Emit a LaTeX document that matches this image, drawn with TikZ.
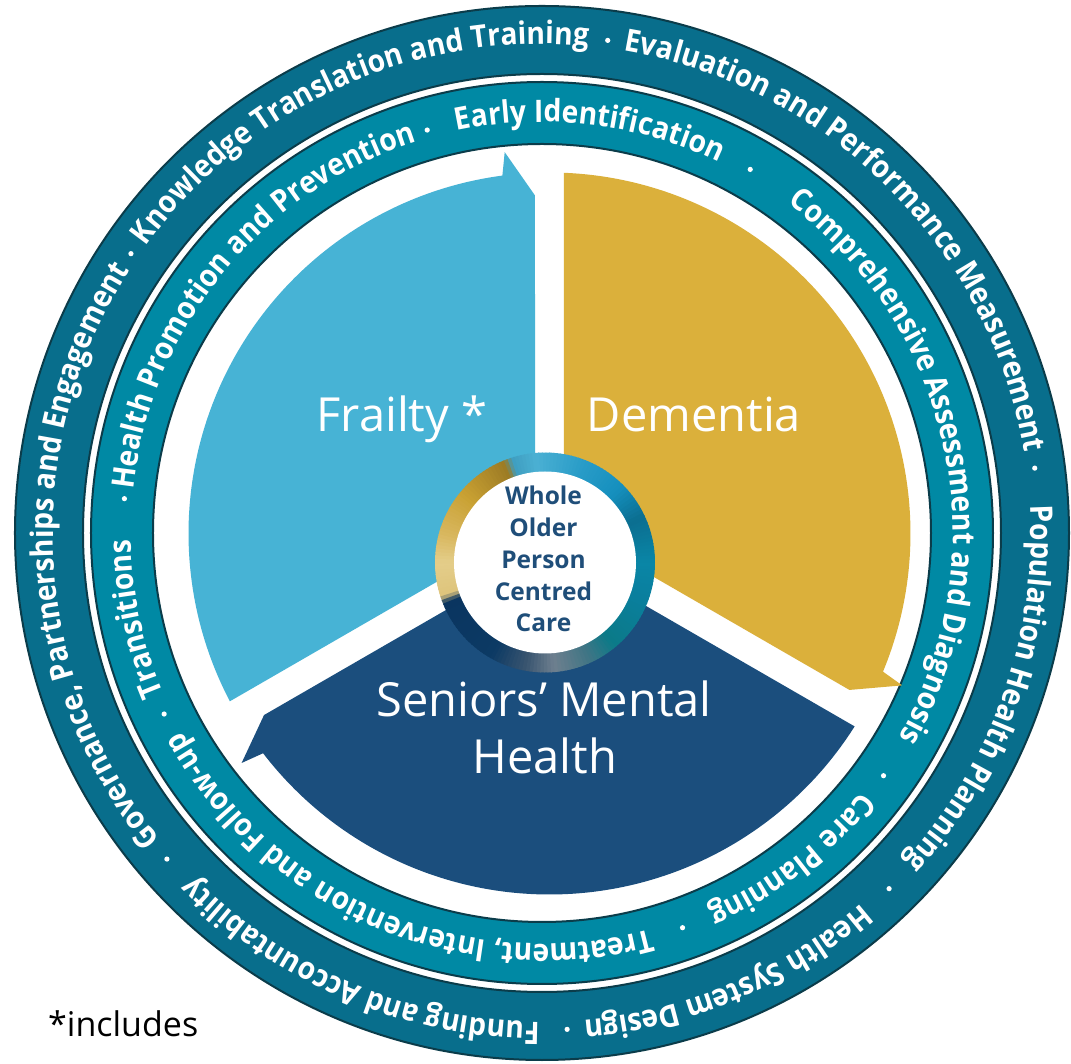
\documentclass[tikz,border=0pt]{standalone}
\usepackage{fontspec}
\setmainfont{Open Sans}
\newfontfamily\ringfont[FakeStretch=0.91]{Open Sans}
\newfontfamily\labelfont{Open Sans}
\usetikzlibrary{decorations.text}
\definecolor{ringouter}{HTML}{086E8C}
\definecolor{ringinner}{HTML}{0089A4}
\definecolor{ringline}{HTML}{0B3C4A}
\definecolor{frailtycol}{HTML}{47B3D5}
\definecolor{dementiacol}{HTML}{DBB03B}
\definecolor{smhcol}{HTML}{1B4E7D}
\definecolor{centreblue}{HTML}{1F4E79}
% centre ring key colours
\definecolor{kA}{HTML}{E4CE8A}
\definecolor{kB}{HTML}{DEC47C}
\definecolor{kC}{HTML}{0A3560}
\definecolor{kD}{HTML}{0C3A64}
\definecolor{kE}{HTML}{3A5570}
\definecolor{kF}{HTML}{6E7F8F}
\definecolor{kG}{HTML}{3F7585}
\definecolor{kH}{HTML}{0B7A88}
\definecolor{kI}{HTML}{0A7F9E}
\definecolor{kJ}{HTML}{0A86A6}
\definecolor{kK}{HTML}{0B6E90}
\definecolor{kL}{HTML}{1590BE}
\definecolor{kM}{HTML}{2A9DC8}
\definecolor{kN}{HTML}{4BB0D3}
\definecolor{kO}{HTML}{3E9EC0}
\definecolor{kP}{HTML}{9C7B24}
\definecolor{kQ}{HTML}{C9A133}
\definecolor{kR}{HTML}{D9B860}
\tikzset{
  ringtext/.style={decorate, decoration={text along path, text color=white,
      text align=center, text={|\ringfont\bfseries\fontsize{31}{31}\selectfont|#1}}},
  labeltext/.style={font=\labelfont\fontsize{47}{47}\selectfont, text=white, inner sep=0pt, anchor=base},
  centretext/.style={font=\bfseries\fontsize{24.5}{24.5}\selectfont, text=centreblue, inner sep=0pt, anchor=base},
  ringdot/.style={fill=white},
}
\begin{document}
\begin{tikzpicture}[x=1pt,y=1pt]
\useasboundingbox[fill=white] (-542,-531) rectangle (529,533);
% rings
\coordinate (rc) at (0,0);
\fill[ringouter, draw=ringline, line width=2, even odd rule] (rc) circle (527) (rc) circle (459);
\fill[ringinner, draw=ringline, line width=2, even odd rule] (rc) circle (451) (rc) circle (389);
% segments
\foreach \g/\col in {90/frailtycol, 330/dementiacol, 210/smhcol}{
  \begin{scope}[shift={(7.5,-0.5)}, rotate=\g]
    \fill[\col] (60:16.74) -- (338,14.5) -- (6.7:384) -- (7.5:361)
      arc[start angle=7.5, end angle=117.7, radius=361] -- cycle;
  \end{scope}
}
% centre circle
\coordinate (cc) at (3,-29.5);
\foreach \ua/\ub/\uc/\ud in {-180/-162/kA/kB, -162/-158/kB/kC, -158/-120/kC/kD, -120/-100/kD/kE,
   -100/-85/kE/kF, -85/-65/kF/kG, -65/-50/kG/kH, -50/-20/kH/kI, -20/0/kI/kJ, 0/25/kJ/kK,
   25/45/kK/kL, 45/70/kL/kM, 70/95/kM/kN, 95/108/kN/kO, 108/112/kO/kP, 112/140/kP/kQ,
   140/165/kQ/kR, 165/180/kR/kA}{
  \pgfmathtruncatemacro\nn{max(1,round((\ub-\ua)/2))}
  \foreach \ii in {1,...,\nn}{
    \pgfmathsetmacro\sa{\ua+(\ii-1)*(\ub-\ua)/\nn}
    \pgfmathsetmacro\sb{\ua+\ii*(\ub-\ua)/\nn+0.5}
    \pgfmathtruncatemacro\pp{100*(\ii-0.5)/\nn}
    \fill[color=\ud!\pp!\uc] (cc) -- ++(\sa:110) arc[start angle=\sa, end angle=\sb, radius=110] -- cycle;
  }
}
\fill[white] (cc) circle (91);
% outer ring texts
\path[ringtext={Governance, Partnerships and Engagement}] (226.5:489) arc[start angle=226.5, end angle=139.7, radius=489];
\path[ringtext={Knowledge Translation and Training}] (152.0:489) arc[start angle=152.0, end angle=76.7, radius=489];
\path[ringtext={Evaluation and Performance Measurement}] (88.0:489) arc[start angle=88.0, end angle=1.9, radius=489];
\path[ringtext={Population Health Planning}] (11.9:489) arc[start angle=11.9, end angle=-50.9, radius=489];
\path[ringtext={Health System Design}] (-41.6:489) arc[start angle=-41.6, end angle=-92.7, radius=489];
\path[ringtext={Funding and Accountability}] (-81.7:489) arc[start angle=-81.7, end angle=-144.0, radius=489];
\foreach \d in {145.8, 82.4, 7.5, -45.7, -87.1, -139}{\fill[ringdot] (\d:497) circle (2.6);}
% inner ring texts
\path[ringtext={Health Promotion and Prevention}] (180.6:411) arc[start angle=180.6, end angle=101.0, radius=411];
\path[ringtext={Early Identification}] (110.4:411) arc[start angle=110.4, end angle=56.0, radius=411];
\path[ringtext={Comprehensive Assessment and Diagnosis}] (63.2:411) arc[start angle=63.2, end angle=-39.7, radius=411];
\path[ringtext={Care Planning}] (-31.1:411) arc[start angle=-31.1, end angle=-74.0, radius=411];
\path[ringtext={Treatment, Intervention and Follow-up}] (-67.0:411) arc[start angle=-67.0, end angle=-158.8, radius=411];
\path[ringtext={Transitions}] (210.6:411) arc[start angle=210.6, end angle=173.3, radius=411];
\foreach \d in {105.9, 60.2, -35.4, -70.4, 205.6, 175.3}{\fill[ringdot] (\d:419) circle (2.6);}
% labels
\node[labeltext] (frailty) at (-140,101) {Frailty *};
\node[labeltext] (dementia) at (152,101) {Dementia};
\node[labeltext] (smhA) at (2,-184) {Seniors’ Mental};
\node[labeltext] (smhB) at (3,-241) {Health};
\node[centretext] (cA) at (1.5,28) {Whole};
\node[centretext] (cB) at (1.5,-3.75) {Older};
\node[centretext] (cC) at (1.5,-35.5) {Person};
\node[centretext] (cD) at (1.5,-67.25) {Centred};
\node[centretext] (cE) at (1.5,-99) {Care};
\node[anchor=base west, inner sep=0pt, font=\fontsize{34}{34}\selectfont] (incl) at (-494,-503.7) {*includes};
\end{tikzpicture}
\end{document}
